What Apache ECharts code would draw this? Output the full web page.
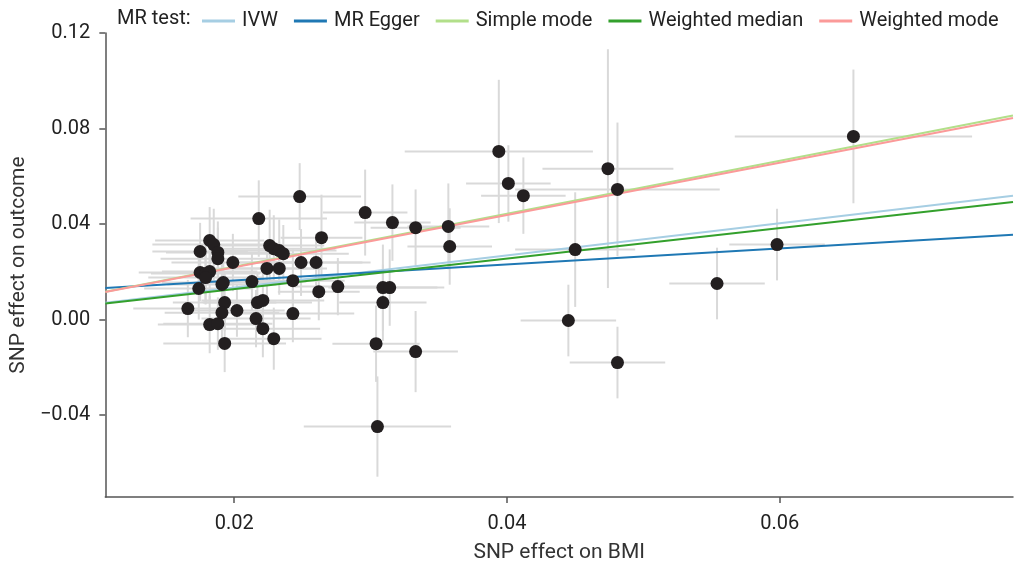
<!DOCTYPE html>
<html>
<head>
<meta charset="utf-8">
<script src="https://cdn.jsdelivr.net/npm/echarts@6/dist/echarts.min.js"></script>
<style>
html,body{margin:0;padding:0;background:#fff;}
#chart{width:1017px;height:568px;}
</style>
</head>
<body>
<div id="chart"></div>
<script>
// SNP effects on BMI (x) and outcome (y), with error-bar half widths
const bmi = [0.0175,0.0182,0.0185,0.0188,0.0188,0.0199,0.0218,0.0226,0.0229,0.0233,0.0236,0.0224,0.0233,0.0249,0.0260,0.0213,0.0243,0.0248,0.0264,0.0174,0.0175,0.0179,0.0182,0.0179,0.0191,0.0192,0.0193,0.0217,0.0221,0.0166,0.0191,0.0202,0.0216,0.0182,0.0188,0.0221,0.0193,0.0229,0.0243,0.0262,0.0276,
  0.0296,0.0309,0.0314,0.0309,0.0304,0.0333,0.0305,0.0316,0.0333,0.0357,0.0358,0.0394,0.0401,0.0412,0.0450,0.0445,0.0481,0.0474,0.0481,0.0554,0.0598,0.0654];
const outcome = [0.0285,0.0331,0.0314,0.0281,0.0255,0.0239,0.0423,0.0310,0.0297,0.0289,0.0276,0.0214,0.0214,0.0239,0.0239,0.0159,0.0163,0.0515,0.0343,0.0130,0.0197,0.0193,0.0201,0.0176,0.0147,0.0155,0.0071,0.0071,0.0080,0.0046,0.0029,0.0038,0.0004,-0.0021,-0.0017,-0.0038,-0.0100,-0.0080,0.0025,0.0117,0.0138,
  0.0448,0.0134,0.0134,0.0071,-0.0101,-0.0134,-0.0448,0.0406,0.0385,0.0390,0.0306,0.0704,0.0570,0.0519,0.0293,-0.0004,-0.0180,0.0632,0.0545,0.0151,0.0314,0.0767];
const bmiErr = [0.0035,0.0040,0.0045,0.0038,0.0042,0.0045,0.0050,0.0040,0.0045,0.0042,0.0048,0.0040,0.0035,0.0045,0.0040,0.0040,0.0038,0.0045,0.0030,0.0040,0.0045,0.0040,0.0035,0.0042,0.0040,0.0045,0.0038,0.0040,0.0045,0.0040,0.0042,0.0035,0.0040,0.0038,0.0040,0.0042,0.0045,0.0035,0.0045,0.0030,0.0032,
  0.0031,0.0040,0.0040,0.0032,0.0032,0.0031,0.0054,0.0028,0.0033,0.0030,0.0031,0.0069,0.0031,0.0031,0.0044,0.0035,0.0035,0.0048,0.0075,0.0035,0.0035,0.0087];
const outcomeErr = [0.012,0.014,0.015,0.013,0.013,0.012,0.016,0.015,0.014,0.013,0.012,0.012,0.011,0.014,0.012,0.012,0.013,0.014,0.018,0.013,0.012,0.013,0.012,0.011,0.013,0.012,0.012,0.012,0.013,0.012,0.013,0.011,0.012,0.012,0.011,0.012,0.012,0.013,0.012,0.012,0.012,
  0.018,0.018,0.016,0.016,0.016,0.017,0.021,0.016,0.016,0.018,0.016,0.030,0.016,0.016,0.024,0.015,0.015,0.050,0.028,0.015,0.015,0.028];

// MR methods: regression lines (slope, intercept)
const methods = ['IVW','MR Egger','Simple mode','Weighted median','Weighted mode'];
const slopes = [0.672,0.335,1.108,0.638,1.095];
const intercepts = [0,0.0097,0,0,0];
const methodColors = ['#a6cee3','#1f78b4','#b2df8a','#33a02c','#fb9a99'];

const xTicks = [0.02,0.04,0.06];
const yTicks = [-0.04,0.00,0.04,0.08,0.12];
const xRange = [0.01055,0.0771];
const yRange = [-0.0743,0.12];

const FONT = 'Roboto';
const fmt = v => (v < 0 ? '\u2212' : '') + Math.abs(v).toFixed(2);

const pts = bmi.map((x,i)=>[x,outcome[i],bmiErr[i],outcomeErr[i]]);

const lineSeries = methods.map((m,i)=>({
  name:m, type:'line', showSymbol:false, symbol:'none', z:3,
  lineStyle:{color:methodColors[i], width:2},
  itemStyle:{color:methodColors[i]},
  data: xRange.map(x=>[x, intercepts[i]+slopes[i]*x]),
  silent:true, animation:false
}));

const chart = echarts.init(document.getElementById('chart'));
chart.setOption({
  animation:false,
  textStyle:{fontFamily:FONT},
  graphic:[{type:'text', left:117, top:9, style:{text:'MR test:', fontSize:20, fontFamily:FONT, fill:'#222'}}],
  legend:{
    data:methods, left:197, top:6, icon:'rect', itemWidth:33, itemHeight:3, itemGap:16,
    textStyle:{fontSize:20, color:'#222', fontFamily:FONT, padding:[0,0,0,2]}
  },
  grid:{left:105, right:4, top:33, bottom:71, containLabel:false},
  xAxis:{
    type:'value', min:xRange[0], max:xRange[1],
    name:'SNP effect on BMI', nameLocation:'middle', nameGap:45,
    nameTextStyle:{fontSize:21, color:'#333', fontFamily:FONT},
    splitLine:{show:false},
    axisLine:{onZero:false, lineStyle:{color:'#555', width:1.5}},
    axisTick:{length:6, lineStyle:{color:'#555', width:1.5}, customValues:xTicks},
    axisLabel:{fontSize:20, color:'#222', margin:17, customValues:xTicks, formatter:fmt}
  },
  yAxis:{
    type:'value', min:yRange[0], max:yRange[1],
    name:'SNP effect on outcome', nameLocation:'middle', nameGap:67,
    nameTextStyle:{fontSize:21, color:'#333', fontFamily:FONT},
    splitLine:{show:false},
    axisLine:{show:true, onZero:false, lineStyle:{color:'#555', width:1.5}},
    axisTick:{show:true, length:6, lineStyle:{color:'#555', width:1.5}, customValues:yTicks},
    axisLabel:{fontSize:20, color:'#222', margin:15, customValues:yTicks, formatter:fmt}
  },
  series:[
    {
      type:'custom', z:1, silent:true, clip:true,
      data:pts,
      renderItem:(params, api)=>{
        const x=api.value(0), y=api.value(1), ex=api.value(2), ey=api.value(3);
        const a=api.coord([x-ex,y]), b=api.coord([x+ex,y]);
        const c=api.coord([x,y-ey]), d=api.coord([x,y+ey]);
        const st={stroke:'#d9d9d9', lineWidth:2};
        return {type:'group', children:[
          {type:'line', shape:{x1:a[0],y1:a[1],x2:b[0],y2:b[1]}, style:st},
          {type:'line', shape:{x1:c[0],y1:c[1],x2:d[0],y2:d[1]}, style:st}
        ]};
      }
    },
    ...lineSeries,
    {
      type:'scatter', z:5, symbolSize:13, silent:true,
      itemStyle:{color:'#231f20', opacity:1},
      data:pts.map(p=>[p[0],p[1]])
    }
  ]
});
</script>
</body>
</html>
